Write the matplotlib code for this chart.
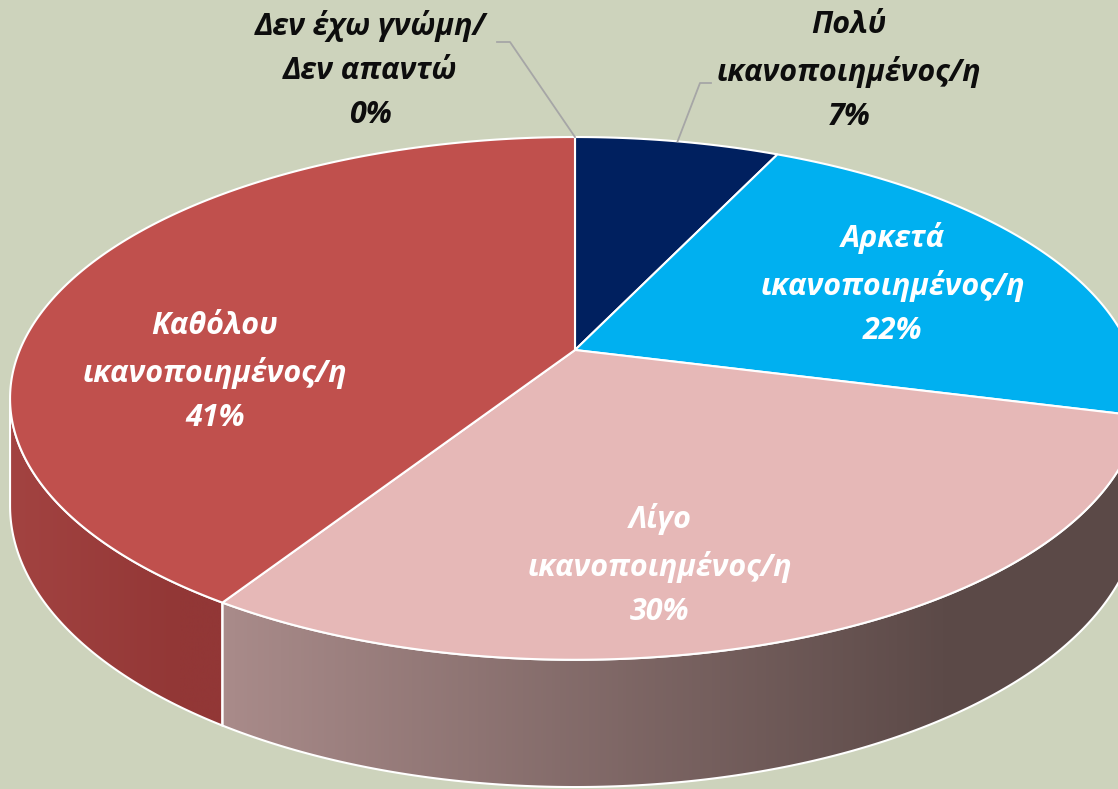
import numpy as np
import matplotlib.pyplot as plt
from matplotlib.patches import Polygon
from matplotlib.colors import LinearSegmentedColormap

labels = ["Πολύ\nικανοποιημένος/η", "Αρκετά\nικανοποιημένος/η", "Λίγο\nικανοποιημένος/η",
          "Καθόλου\nικανοποιημένος/η", "Δεν έχω γνώμη/\nΔεν απαντώ"]
values = [7, 22, 30, 41, 0]
top_colors = ["#00205f", "#00b0f0", "#e6b8b7", "#c0504d", "#8064a2"]
side_colors = [("#001a4d", "#001a4d"), ("#0090c8", "#0090c8"), ("#a98b8a", "#5b4947"),
               ("#a34341", "#923736"), ("#6a528a", "#6a528a")]
text_colors = ["#0d0d0d", "white", "white", "white", "#0d0d0d"]
# label centres (pixels)
label_pos = [(849, 71), (893, 284), (660, 565), (215, 372), (370, 70)]

# perspective parameters of the pie (pixels)
cx, cy = 575, 350
d, f, g, H = 5.4, 2998, 1363, 560

plt.rcParams['font.family'] = ['Open Sans', 'DejaVu Sans']

BG = "#cdd3bc"
fig = plt.figure(figsize=(11.18, 7.89), dpi=100, facecolor=BG)
ax = fig.add_axes([0, 0, 1, 1])
ax.set_xlim(0, 1118)
ax.set_ylim(789, 0)
ax.axis('off')
ax.set_facecolor(BG)


def proj(t, low=False):
    t = np.radians(t)
    u, v = np.sin(t), np.cos(t)
    x = cx + f * u / (d + v)
    y = cy - g * v / (d + v)
    if low:
        y = y + H / (d + v)
    return x, y


total = sum(values)
bounds = np.concatenate([[0], np.cumsum(values) / total * 360])
vis0 = np.degrees(np.arccos(-1 / d))
vis1 = 360 - vis0

# sides
for i in range(len(values)):
    a, b = max(bounds[i], vis0), min(bounds[i + 1], vis1)
    if b <= a:
        continue
    ts = np.linspace(a, b, 200)
    xt, yt = proj(ts)
    xb, yb = proj(ts[::-1], low=True)
    pts = np.column_stack([np.concatenate([xt, xb]), np.concatenate([yt, yb])])
    poly = Polygon(pts, closed=True, facecolor='none', edgecolor='white', lw=1.5, zorder=3)
    ax.add_patch(poly)
    x0, x1 = pts[:, 0].min(), pts[:, 0].max()
    y0, y1 = pts[:, 1].min(), pts[:, 1].max()
    cmap = LinearSegmentedColormap.from_list("s%d" % i, side_colors[i])
    grad = np.clip(np.linspace(0, 1.25, 256), 0, 1)[None, :]
    im = ax.imshow(grad, cmap=cmap, extent=[x0, x1, y1, y0], aspect='auto', zorder=2,
                   interpolation='bilinear')
    im.set_clip_path(poly)

# top faces
for i in range(len(values)):
    if values[i] == 0:
        continue
    ts = np.linspace(bounds[i], bounds[i + 1], 200)
    xt, yt = proj(ts)
    pts = np.column_stack([np.concatenate([[cx], xt]), np.concatenate([[cy], yt])])
    ax.add_patch(Polygon(pts, closed=True, facecolor=top_colors[i], edgecolor='white',
                         lw=1.5, zorder=4))

# labels
for i in range(len(values)):
    x, y = label_pos[i]
    ax.text(x, y, "%s\n%d%%" % (labels[i], values[i]), ha='center', va='center',
            fontsize=22, fontweight='bold', fontstyle='italic', color=text_colors[i],
            linespacing=1.62, zorder=6)

# leader lines
mid = (bounds[0] + bounds[1]) / 2
px, py = proj(mid)
ax.plot([711, 700, px], [83, 83, py], color='#a6a6a6', lw=1.3, zorder=5)
px, py = proj(bounds[4])
ax.plot([497, 510, px], [42, 42, py], color='#a6a6a6', lw=1.3, zorder=5)

fig.savefig("out.png", dpi=100, facecolor=BG)
